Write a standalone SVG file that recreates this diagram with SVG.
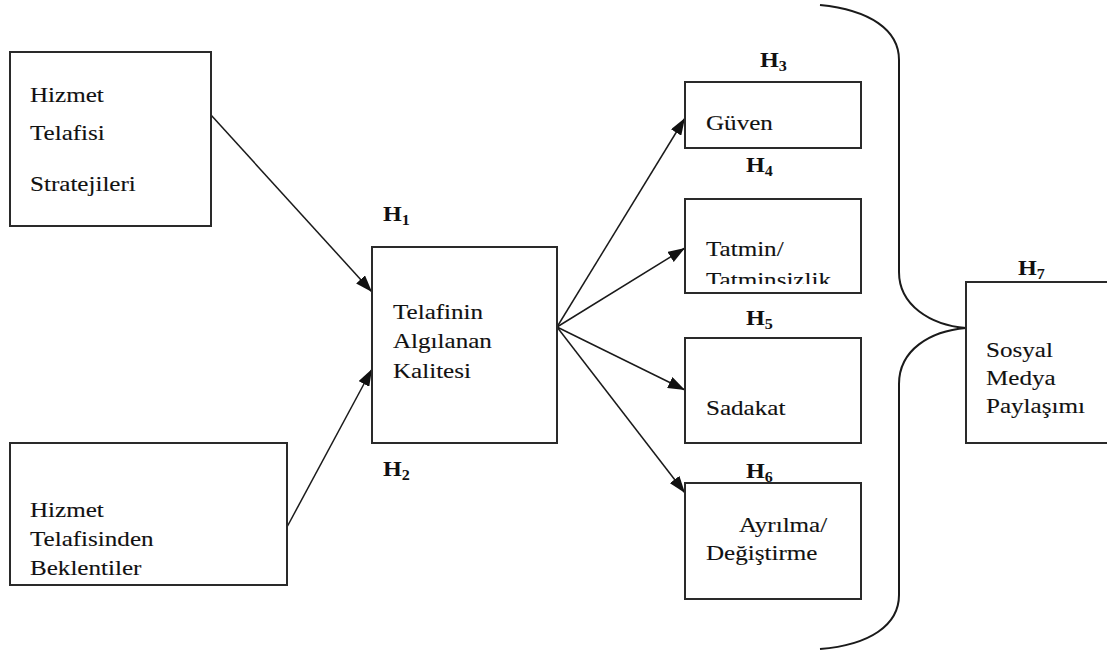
<svg xmlns="http://www.w3.org/2000/svg" width="1107" height="652" viewBox="0 0 1107 652">
<defs>
<style>
.box{fill:#fff;stroke:#2a2a2a;stroke-width:2}
.t{font-size:22px;fill:#111;stroke:#111;stroke-width:0.12}
.h{font-size:21px;font-weight:bold;fill:#111}
.s{font-size:14px}
.ln{stroke:#1a1a1a;stroke-width:1.5;fill:none}
.brace{stroke:#1a1a1a;stroke-width:2;fill:none}
</style>
<marker id="arr" markerUnits="userSpaceOnUse" markerWidth="18" markerHeight="12" refX="17" refY="6" orient="auto">
<path d="M0,0 L17,6 L0,12 z" fill="#111"/>
</marker>
<clipPath id="clipT"><rect x="686" y="200" width="174" height="84"/></clipPath>
</defs>
<rect width="1107" height="652" fill="#fff"/>

<g id="connectors">
<line class="ln" x1="211" y1="115" x2="372" y2="292" marker-end="url(#arr)"/>
<line class="ln" x1="287" y1="527" x2="372" y2="369" marker-end="url(#arr)"/>
<line class="ln" x1="557" y1="327" x2="685" y2="118" marker-end="url(#arr)"/>
<line class="ln" x1="557" y1="327" x2="685" y2="248" marker-end="url(#arr)"/>
<line class="ln" x1="557" y1="327" x2="685" y2="390" marker-end="url(#arr)"/>
<line class="ln" x1="557" y1="327" x2="685" y2="493" marker-end="url(#arr)"/>
<path id="brace" class="brace" d="M820,5 C870,10 899,30 899,60 L899,272 C899,305 930,325 966,328 C930,331 899,350 899,384 L899,595 C899,625 870,645 820,649"/>
</g>

<g font-family="Liberation Serif, Tinos, DejaVu Serif, serif">
<g id="node-strateji">
<rect class="box" x="10" y="52" width="201" height="174"/>
<text class="t" transform="translate(30,102) scale(1.14,1)">Hizmet</text>
<text class="t" transform="translate(30,140) scale(1.14,1)">Telafisi</text>
<text class="t" transform="translate(30,191) scale(1.14,1)">Stratejileri</text>
</g>

<g id="node-beklenti">
<rect class="box" x="10" y="443" width="277" height="142"/>
<text class="t" transform="translate(30,517) scale(1.14,1)">Hizmet</text>
<text class="t" transform="translate(30,546) scale(1.14,1)">Telafisinden</text>
<text class="t" transform="translate(30,575) scale(1.14,1)">Beklentiler</text>
</g>

<g id="node-kalite">
<text class="h" transform="translate(383,221) scale(1.15,1)">H<tspan class="s" dy="4">1</tspan></text>
<rect class="box" x="372" y="247" width="185" height="196"/>
<text class="t" transform="translate(393,319) scale(1.14,1)">Telafinin</text>
<text class="t" transform="translate(393,348) scale(1.14,1)">Algılanan</text>
<text class="t" transform="translate(393,378) scale(1.14,1)">Kalitesi</text>
<text class="h" transform="translate(383,476) scale(1.15,1)">H<tspan class="s" dy="4">2</tspan></text>
</g>

<g id="node-guven">
<text class="h" transform="translate(760,67) scale(1.15,1)">H<tspan class="s" dy="4">3</tspan></text>
<rect class="box" x="685" y="82" width="176" height="66"/>
<text class="t" transform="translate(706,130) scale(1.14,1)">Güven</text>
</g>

<g id="node-tatmin">
<text class="h" transform="translate(746,172) scale(1.15,1)">H<tspan class="s" dy="4">4</tspan></text>
<rect class="box" x="685" y="199" width="176" height="94"/>
<g clip-path="url(#clipT)">
<text class="t" transform="translate(706,256) scale(1.14,1)">Tatmin/</text>
<text class="t" transform="translate(706,287) scale(1.14,1)">Tatminsizlik</text>
</g>
</g>

<g id="node-sadakat">
<text class="h" transform="translate(746,325) scale(1.15,1)">H<tspan class="s" dy="4">5</tspan></text>
<rect class="box" x="685" y="338" width="176" height="105"/>
<text class="t" transform="translate(706,415) scale(1.14,1)">Sadakat</text>
</g>

<g id="node-ayrilma">
<text class="h" transform="translate(746,478) scale(1.15,1)">H<tspan class="s" dy="4">6</tspan></text>
<rect class="box" x="685" y="483" width="176" height="116"/>
<text class="t" transform="translate(739,532) scale(1.14,1)">Ayrılma/</text>
<text class="t" transform="translate(706,560) scale(1.14,1)">Değiştirme</text>
</g>

<g id="node-sosyal">
<text class="h" transform="translate(1018,275) scale(1.15,1)">H<tspan class="s" dy="4">7</tspan></text>
<rect class="box" x="966" y="282" width="150" height="161"/>
<text class="t" transform="translate(986,357) scale(1.14,1)">Sosyal</text>
<text class="t" transform="translate(986,385) scale(1.14,1)">Medya</text>
<text class="t" transform="translate(986,413) scale(1.14,1)">Paylaşımı</text>
</g>
</g>
</svg>
